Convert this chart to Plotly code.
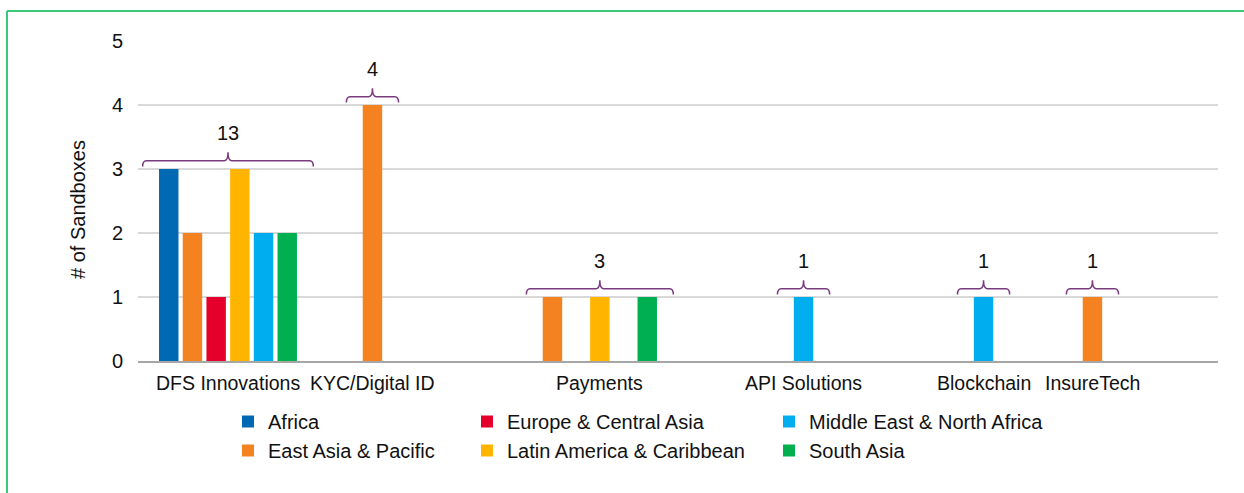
import plotly.graph_objects as go

categories = ["DFS Innovations", "KYC/Digital ID", "Payments", "API Solutions", "Blockchain", "InsureTech"]
series_names = ["Africa", "East Asia & Pacific", "Europe & Central Asia",
                "Latin America & Caribbean", "Middle East & North Africa", "South Asia"]
africa = [3, 0, 0, 0, 0, 0]
east_asia = [2, 4, 1, 0, 0, 1]
europe = [1, 0, 0, 0, 0, 0]
latam = [3, 0, 1, 0, 0, 0]
mena = [2, 0, 0, 1, 1, 0]
south_asia = [2, 0, 1, 0, 0, 0]
series_values = [africa, east_asia, europe, latam, mena, south_asia]

colors = ["#0069B4", "#F58220", "#E4002B", "#FFB500", "#00AEEF", "#00B050"]
legend_ids = ["legend", "legend", "legend2", "legend2", "legend3", "legend3"]

FONT = "Liberation Sans, Arial, sans-serif"
TXT = "#111111"
BRACKET = "#7A3B7E"

W, H = 1244, 493
ML, MR, MT, MB = 138, 26, 41, 132
PW = W - ML - MR
PH = H - MT - MB

BARGAP = 0.21
BARGROUPGAP = 0.18

xs = list(range(len(categories)))
fig = go.Figure()
for name, vals, col, lg in zip(series_names, series_values, colors, legend_ids):
    fig.add_trace(go.Bar(
        x=xs, y=[v if v else None for v in vals], name=name,
        marker=dict(color=col, line=dict(width=0)),
        legend=lg, hoverinfo="skip",
    ))

n_series = len(series_names)
slot = (1 - BARGAP) / n_series


def bar_center(c, i):
    return c - (1 - BARGAP) / 2 + (i + 0.5) * slot


annotations = []
shapes = []
for c, cat in enumerate(categories):
    present = [i for i in range(n_series) if series_values[i][c]]
    total = sum(series_values[i][c] for i in range(n_series))
    ymax = max(series_values[i][c] for i in range(n_series))
    centers = [bar_center(c, i) for i in present]
    mid = (centers[0] + centers[-1]) / 2
    # category label
    annotations.append(dict(
        x=mid, y=0, xref="x", yref="y", text=cat, showarrow=False,
        xanchor="center", yanchor="top", yshift=-9,
        font=dict(family=FONT, size=19.5, color=TXT),
    ))
    # bracket
    d = 1.1 * slot
    x0, x1 = centers[0] - d, centers[-1] + d
    yb = ymax + 0.04
    yh = ymax + 0.13
    yt = ymax + 0.26
    r = 0.15 * slot
    path = (f"M{x0},{yb} Q{x0},{yh} {x0 + r},{yh} L{mid - r},{yh} "
            f"Q{mid},{yh} {mid},{yt} Q{mid},{yh} {mid + r},{yh} "
            f"L{x1 - r},{yh} Q{x1},{yh} {x1},{yb}")
    shapes.append(dict(type="path", path=path, xref="x", yref="y",
                       line=dict(color=BRACKET, width=1.5)))
    annotations.append(dict(
        x=mid, y=ymax + 0.56, xref="x", yref="y", text=str(total), showarrow=False,
        xanchor="center", yanchor="middle",
        font=dict(family=FONT, size=20, color=TXT),
    ))

# y-axis title
annotations.append(dict(
    x=(78 - ML) / PW, y=(H - MB - 210) / PH, xref="paper", yref="paper",
    text="# of Sandboxes", textangle=-90, showarrow=False,
    xanchor="center", yanchor="middle",
    font=dict(family=FONT, size=20, color=TXT),
))

# green frame (left and top edges)
green = "#3CC878"
fx = (7 - ML) / PW
fy = (H - MB - 11) / PH
fyb = (H - MB - 520) / PH
shapes.append(dict(type="line", xref="paper", yref="paper", x0=fx, x1=fx, y0=fyb, y1=fy,
                   line=dict(color=green, width=2)))
shapes.append(dict(type="line", xref="paper", yref="paper", x0=fx, x1=(W + 20 - ML) / PW, y0=fy, y1=fy,
                   line=dict(color=green, width=2)))

leg_font = dict(family=FONT, size=20, color=TXT)
leg_y = (H - MB - 402) / PH


def legend_cfg(px):
    return dict(x=(px - ML) / PW, y=leg_y, xanchor="left", yanchor="top",
                orientation="v", font=leg_font, bgcolor="rgba(0,0,0,0)",
                tracegroupgap=0, itemclick=False, itemdoubleclick=False)


fig.update_layout(
    width=W, height=H,
    margin=dict(l=ML, r=MR, t=MT, b=MB),
    paper_bgcolor="white", plot_bgcolor="white",
    barmode="group", bargap=BARGAP, bargroupgap=BARGROUPGAP,
    font=dict(family=FONT, color=TXT),
    showlegend=True,
    legend=legend_cfg(228),
    legend2=legend_cfg(467),
    legend3=legend_cfg(769),
    xaxis=dict(range=[-0.5, len(categories) - 0.5], showticklabels=False, showgrid=False,
               zeroline=False, showline=True, linecolor="#A6A6A6", linewidth=2, ticks=""),
    yaxis=dict(range=[0, 5], dtick=1, showgrid=True, gridcolor="#D9D9D9", gridwidth=2,
               zeroline=False, showline=False, ticks="", ticklabelstandoff=14,
               tickfont=dict(family=FONT, size=20, color=TXT)),
    annotations=annotations,
    shapes=shapes,
)

fig.write_html("out.html", config={"displayModeBar": False},
               post_script="document.body.style.margin='0';")
